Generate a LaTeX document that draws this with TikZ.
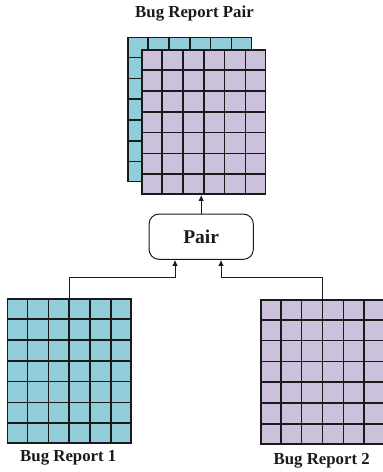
\documentclass[tikz,border=0pt]{standalone}
\usepackage{fontspec}
\setmainfont{Liberation Serif}
\usetikzlibrary{arrows.meta,calc}
\definecolor{cyanfill}{HTML}{92CDDC}
\definecolor{lilacfill}{HTML}{CCC1DA}
\definecolor{ink}{HTML}{1A1A1A}
\newcommand{\cellgrid}[1]{%
  \foreach \i in {1,...,5}{\draw[gridline] ($(#1.north west)!\i/6!(#1.north east)$) -- ($(#1.south west)!\i/6!(#1.south east)$);}
  \foreach \j in {1,...,6}{\draw[gridline] ($(#1.north west)!\j/7!(#1.south west)$) -- ($(#1.north east)!\j/7!(#1.south east)$);}
}
\begin{document}
\begin{tikzpicture}[x=1pt,y=-1pt,
  gridbox/.style={draw=ink,line width=1.6pt,minimum width=123.4pt,minimum height=144pt,inner sep=0pt,anchor=north west},
  gridline/.style={draw=ink,line width=1.6pt},
  lbl/.style={font=\fontsize{16.8}{20}\selectfont\bfseries,text=ink,inner sep=0pt},
  pairbox/.style={draw=ink,line width=1pt,rounded corners=10pt,minimum width=104.3pt,minimum height=45.3pt,fill=white,font=\fontsize{19.5}{22}\selectfont\bfseries,text=ink},
  arr/.style={draw=ink,line width=1pt,-{Latex[length=6pt,width=5.5pt]}}]
\useasboundingbox (0,0) rectangle (383,472);
% back and front grids of the pair
\node[gridbox,fill=cyanfill] (back) at (127.3,36.7) {};
\cellgrid{back}
\node[gridbox,fill=lilacfill] (front) at (141.3,49.3) {};
\cellgrid{front}
\node[lbl] (ttl) at (194.5,14) {Bug Report Pair};
% pair box
\node[pairbox] (pair) at (201.2,236.7) {Pair};
% bug reports
\node[gridbox,fill=cyanfill] (br1) at (6.7,298.3) {};
\cellgrid{br1}
\node[gridbox,fill=lilacfill] (br2) at (260,299) {};
\cellgrid{br2}
\node[lbl] (l1) at (68.3,458.3) {Bug Report 1};
\node[lbl] (l2) at (321.7,460.7) {Bug Report 2};
% connectors
\coordinate (jl) at (175,277.3);
\coordinate (jr) at (221,277.3);
\draw[arr] (pair.north) -- (pair.north |- front.south);
\draw[arr] (br1.north) |- (jl) -- (jl |- pair.south);
\draw[arr] (br2.north) |- (jr) -- (jr |- pair.south);
\end{tikzpicture}
\end{document}
